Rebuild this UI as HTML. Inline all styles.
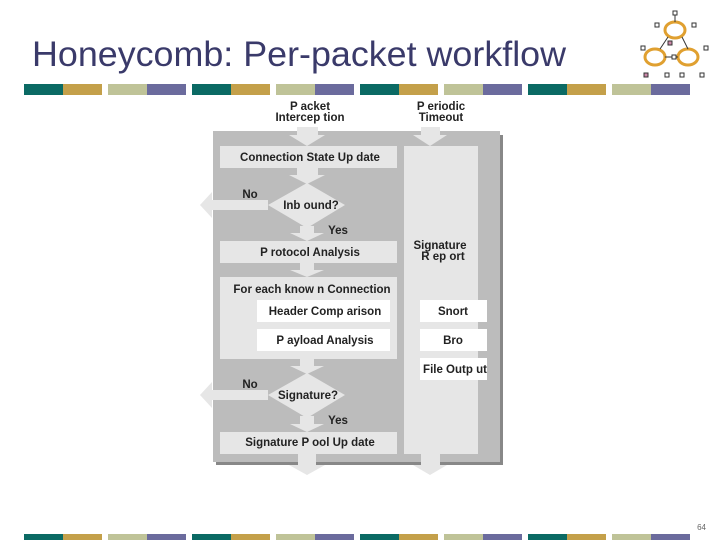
<!DOCTYPE html>
<html><head><style>
body{margin:0;width:720px;height:540px;background:#fff;overflow:hidden;position:relative;font-family:"Liberation Sans",sans-serif}
</style></head><body>
<svg width="720" height="540" style="position:absolute;left:0;top:0" font-family="Liberation Sans, sans-serif">
<text x="32" y="66" font-size="35" fill="#3a3a6a" textLength="534" lengthAdjust="spacingAndGlyphs">Honeycomb: Per-packet workflow</text>
<g id="bar">
<rect x="24" y="84" width="39" height="11" fill="#0b6a64"/><rect x="63" y="84" width="39" height="11" fill="#c4a04a"/>
<rect x="108" y="84" width="39" height="11" fill="#bfc398"/><rect x="147" y="84" width="39" height="11" fill="#6b6b9d"/>
<rect x="192" y="84" width="39" height="11" fill="#0b6a64"/><rect x="231" y="84" width="39" height="11" fill="#c4a04a"/>
<rect x="276" y="84" width="39" height="11" fill="#bfc398"/><rect x="315" y="84" width="39" height="11" fill="#6b6b9d"/>
<rect x="360" y="84" width="39" height="11" fill="#0b6a64"/><rect x="399" y="84" width="39" height="11" fill="#c4a04a"/>
<rect x="444" y="84" width="39" height="11" fill="#bfc398"/><rect x="483" y="84" width="39" height="11" fill="#6b6b9d"/>
<rect x="528" y="84" width="39" height="11" fill="#0b6a64"/><rect x="567" y="84" width="39" height="11" fill="#c4a04a"/>
<rect x="612" y="84" width="39" height="11" fill="#bfc398"/><rect x="651" y="84" width="39" height="11" fill="#6b6b9d"/>
</g>
<use href="#bar" y="450"/>
<text x="706" y="530" font-size="8" fill="#666" text-anchor="end">64</text>
<g fill="none" stroke="#e0a030" stroke-width="3">
<ellipse cx="675" cy="30" rx="10" ry="8"/><ellipse cx="655" cy="57" rx="10" ry="8"/><ellipse cx="688" cy="57" rx="10" ry="8"/>
</g>
<g stroke="#333" stroke-width="1"><line x1="675" y1="14" x2="675" y2="22"/><line x1="665" y1="57" x2="678" y2="57"/><line x1="682" y1="37" x2="688" y2="49"/><line x1="668" y1="37" x2="660" y2="49"/></g>
<g fill="#fff" stroke="#333" stroke-width="1"><rect x="673" y="11" width="4" height="4"/><rect x="655" y="23" width="4" height="4"/><rect x="692" y="23" width="4" height="4"/><rect x="641" y="46" width="4" height="4"/><rect x="704" y="46" width="4" height="4"/><rect x="672" y="55" width="4" height="4"/><rect x="644" y="73" width="4" height="4" fill="#c8a"/><rect x="665" y="73" width="4" height="4"/><rect x="680" y="73" width="4" height="4"/><rect x="700" y="73" width="4" height="4"/><rect x="668" y="41" width="4" height="4" fill="#c8a"/></g>
<rect x="216" y="135" width="287" height="330" fill="#888"/>
<rect x="213" y="131" width="287" height="331" fill="#bcbcbc"/>
<rect x="404" y="146" width="74" height="308" fill="#e6e6e6"/>
<rect x="478" y="388" width="12" height="66" fill="#bcbcbc"/>
<g fill="#e6e6e6">
<rect x="220" y="146" width="177" height="22"/>
<rect x="220" y="241" width="177" height="22"/>
<rect x="220" y="277" width="177" height="82"/>
<rect x="220" y="432" width="177" height="22"/>
<polygon points="297,127 318,127 318,135 325,135 307,146 289,135 297,135"/>
<polygon points="421,127 440,127 440,135 447,135 430,146 413,135 421,135"/>
<polygon points="297,168 318,168 318,175 325,175 307,184 289,175 297,175"/>
<polygon points="307,183 345,205 307,228 268,205"/>
<polygon points="300,226 314,226 314,233 324,233 307,241 290,233 300,233"/>
<polygon points="300,263 314,263 314,270 324,270 307,277 290,270 300,270"/>
<polygon points="268,200 268,210 212,210 212,218 200,205 212,192 212,200"/>
<polygon points="300,359 314,359 314,366 324,366 307,374 290,366 300,366"/>
<polygon points="307,373 345,395 307,418 268,395"/>
<polygon points="300,416 314,416 314,424 324,424 307,432 290,424 300,424"/>
<polygon points="268,390 268,400 212,400 212,408 200,395 212,382 212,390"/>
<polygon points="298,454 316,454 316,465 325,465 307,475 289,465 298,465"/>
<polygon points="421,454 440,454 440,465 447,465 430,475 413,465 421,465"/>
</g>
<g fill="#fff">
<rect x="257" y="300" width="133" height="22"/><rect x="257" y="329" width="133" height="22"/>
<rect x="420" y="300" width="67" height="22"/><rect x="420" y="329" width="67" height="22"/><rect x="420" y="358" width="67" height="22"/>
</g>
<g font-size="11.5" font-weight="bold" fill="#222" text-anchor="middle">
<text x="310" y="110">P acket</text><text x="310" y="121">Intercep tion</text>
<text x="441" y="110">P eriodic</text><text x="441" y="121">Timeout</text>
<text x="310" y="161">Connection State Up date</text>
<text x="250" y="198">No</text>
<text x="311" y="209">Inb ound?</text>
<text x="338" y="234">Yes</text>
<text x="310" y="256">P rotocol Analysis</text>
<text x="440" y="249">Signature</text><text x="443" y="260">R ep ort</text>
<text x="312" y="293">For each  know n Connection</text>
<text x="325" y="315">Header Comp arison</text>
<text x="325" y="344">P ayload Analysis</text>
<text x="453" y="315">Snort</text><text x="453" y="344">Bro</text><text x="455" y="373">File Outp ut</text>
<text x="250" y="388">No</text>
<text x="308" y="399">Signature?</text>
<text x="338" y="424">Yes</text>
<text x="310" y="446">Signature P ool Up date</text>
</g>
</svg>
</body></html>
